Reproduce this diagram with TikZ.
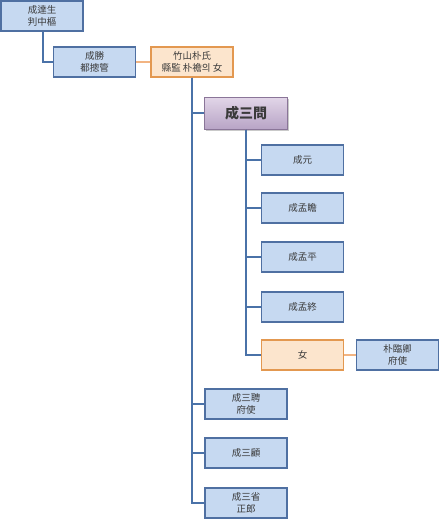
\documentclass[tikz,border=0pt]{standalone}
\usepackage{fontspec}
\newfontfamily\cjk{Noto Sans CJK KR}
\usetikzlibrary{shadows,fadings}
\definecolor{bfill}{HTML}{C6D9F1}
\definecolor{bdraw}{HTML}{4F70A2}
\definecolor{ofill}{HTML}{FCE5CD}
\definecolor{odraw}{HTML}{E39850}
\definecolor{lineb}{HTML}{4A72A8}
\definecolor{lineo}{HTML}{F2B482}
\definecolor{ptop}{HTML}{E2D6E8}
\definecolor{pbot}{HTML}{B8A4C6}
\definecolor{pdraw}{HTML}{8A7598}
\definecolor{txt}{HTML}{3A3A3A}
\tikzset{
  bluebox/.style={draw=bdraw, fill=bfill, line width=1.3pt, minimum width=82pt, minimum height=30pt, inner sep=1pt, align=center, font=\cjk\fontsize{9.5}{12}\selectfont, text=txt},
  orangebox/.style={draw=odraw, fill=ofill, line width=1.3pt, minimum width=82pt, minimum height=30pt, inner sep=1pt, align=center, font=\cjk\fontsize{9.5}{12}\selectfont, text=txt},
  mainbox/.style={draw=pdraw, top color=ptop, bottom color=pbot, line width=1pt, minimum width=83pt, minimum height=32pt, inner sep=1pt, font=\cjk\bfseries\fontsize{14}{16}\selectfont, text=txt,
    drop shadow={shadow xshift=1.5pt, shadow yshift=-1.5pt, opacity=0.35, fill=black!60}},
  conb/.style={draw=lineb, line width=1.5pt},
  cono/.style={draw=lineo, line width=1.2pt}
}
\begin{document}
\begin{tikzpicture}[x=1pt,y=-1pt]
\useasboundingbox (0,0) rectangle (440,519);
\fill[white] (0,0) rectangle (440,519);
\node[bluebox] (a) at (42,16) {成達生\\判中樞};
\node[bluebox] (b) at (94.5,62) {成勝\\都摠管};
\node[orangebox] (c) at (192,62) {竹山朴氏\\縣監 朴襜의 女};
\node[mainbox] (d) at (246,113) {成三問};
\node[bluebox] (e1) at (302.5,160) {成元};
\node[bluebox] (e2) at (302.5,208) {成孟瞻};
\node[bluebox] (e3) at (302.5,257) {成孟平};
\node[bluebox] (e4) at (302.5,307) {成孟終};
\node[orangebox] (e5) at (302.5,355) {女};
\node[bluebox] (f) at (397.5,355) {朴臨卿\\府使};
\node[bluebox] (g1) at (246,404) {成三聘\\府使};
\node[bluebox] (g2) at (246,453) {成三顧};
\node[bluebox] (g3) at (246,503) {成三省\\正郎};
% connectors
\draw[conb] (a.south) ++(1,0) coordinate (a0) |- (b.west);
\draw[cono] (b.east) -- (c.west);
\draw[conb] (c.south) |- (d.west);
\draw[conb] (c.south) |- (g1.west);
\draw[conb] (c.south) |- (g2.west);
\draw[conb] (c.south) |- (g3.west);
\draw[conb] (d.south) |- (e1.west);
\draw[conb] (d.south) |- (e2.west);
\draw[conb] (d.south) |- (e3.west);
\draw[conb] (d.south) |- (e4.west);
\draw[conb] (d.south) |- (e5.west);
\draw[cono] (e5.east) -- (f.west);
\end{tikzpicture}
\end{document}
